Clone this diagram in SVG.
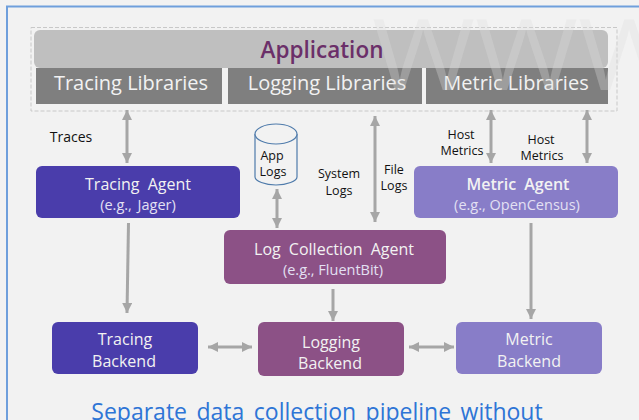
<svg xmlns="http://www.w3.org/2000/svg" width="639" height="420" viewBox="0 0 639 420">
<defs>
<marker id="a" markerUnits="userSpaceOnUse" markerWidth="11" markerHeight="10" refX="10" refY="5" orient="auto-start-reverse"><path d="M0 0L10 5L0 10Z" fill="#a6a6a6"/></marker>
</defs>
<style>
text{font-family:"Open Sans","Noto Sans","Liberation Sans",sans-serif;text-anchor:middle}
.w{fill:#f2f2f2}
.l{font-size:20px;fill:#f2f2f2}
.t{font-size:16px}
.g{word-spacing:4px}
.e{font-size:14.500px;fill:#e3e0f3}
.k{font-size:12.500px;fill:#111}
.c{stroke:#a6a6a6;stroke-width:3;fill:none;marker-end:url(#a)}
.b{marker-start:url(#a)}
.tr{fill:#4a3dab}
.lg{fill:#8c5186}
.mt{fill:#887dc8}
</style>
<rect width="639" height="420" fill="#f2f2f2"/>
<path d="M639 6.500H7V420" fill="none" stroke="#6f9fdc" stroke-width="2"/>
<g id="frame"><rect x="31" y="27.500" width="586" height="83.500" fill="none" stroke="#c8c8c8" stroke-dasharray="4 2"/></g>
<g id="application"><rect x="34" y="30" width="574" height="38" rx="6" fill="#bfbfbf"/>
<text x="322" y="58" font-weight="600" fill="#6b2f69" style="font-size:22.500px">Application</text></g>
<g id="tracing-libraries"><rect x="36" y="68" width="186" height="36" fill="#7f7f7f"/><text class="l" x="131" y="90">Tracing Libraries</text></g>
<g id="logging-libraries"><rect x="228" y="68" width="194" height="36" fill="#7f7f7f"/><text class="l" x="327" y="90">Logging Libraries</text></g>
<g id="metric-libraries"><rect x="426" y="68" width="182" height="36" fill="#7f7f7f"/><text class="l" x="516" y="90">Metric Libraries</text></g>
<text x="372" y="90" style="font-size:98px;fill:#dcdcdc;fill-opacity:.32;text-anchor:start" textLength="309" lengthAdjust="spacingAndGlyphs">WWW</text>
<g id="connectors">
<path class="c b" d="M127 110V163"/>
<path class="c b" d="M277 189V228"/>
<path class="c b" d="M375 116V222"/>
<path class="c b" d="M491 110V163"/>
<path class="c b" d="M587 110V163"/>
<path class="c" d="M128.500 223L127 313"/>
<path class="c" d="M333 289V321"/>
<path class="c" d="M531 223V319"/>
<path class="c b" d="M208 347H252"/>
<path class="c b" d="M409 347H454"/>
</g>
<g id="traces-label"><text class="k" x="71" y="142" style="font-size:14px">Traces</text></g>
<g id="app-logs"><path d="M255 134V177C255 181 265 185 276 185C287 185 297 181 297 177V134" fill="#f2f2f2" stroke="#4f7bab" stroke-width="1.200"/><ellipse cx="276" cy="134" rx="21" ry="10" fill="#f2f2f2" stroke="#4f7bab" stroke-width="1.200"/>
<text class="k" x="272" y="160">App</text><text class="k" x="273" y="176">Logs</text></g>
<g id="system-logs-label"><text class="k" x="339" y="178">System</text><text class="k" x="339" y="195">Logs</text></g>
<g id="file-logs-label"><text class="k" x="394" y="174">File</text><text class="k" x="394" y="190">Logs</text></g>
<g id="host-metrics-1"><text class="k" x="461" y="139">Host</text><text class="k" x="462" y="155">Metrics</text></g>
<g id="host-metrics-2"><text class="k" x="541" y="144">Host</text><text class="k" x="542" y="160">Metrics</text></g>
<g id="tracing-agent"><rect class="tr" x="36" y="166" width="204" height="52" rx="6"/><text class="t w g" x="138" y="190">Tracing Agent</text><text class="e" x="138" y="210" style="word-spacing:2px">(e.g., Jager)</text></g>
<g id="metric-agent"><rect class="mt" x="414" y="166" width="204" height="52" rx="6"/><text class="t w g" x="518" y="190" font-weight="600">Metric Agent</text><text class="e" x="517" y="210">(e.g., OpenCensus)</text></g>
<g id="log-collection-agent"><rect class="lg" x="224" y="230" width="222" height="54" rx="6"/><text class="t w g" x="334" y="255">Log Collection Agent</text><text class="e" x="333" y="275">(e.g., FluentBit)</text></g>
<g id="tracing-backend"><rect class="tr" x="52" y="322" width="146" height="52" rx="6"/><text class="t w" x="125" y="345">Tracing</text><text class="t w" x="124" y="367">Backend</text></g>
<g id="logging-backend"><rect class="lg" x="258" y="322" width="146" height="54" rx="6"/><text class="t w" x="331" y="348">Logging</text><text class="t w" x="330" y="369">Backend</text></g>
<g id="metric-backend"><rect class="mt" x="456" y="322" width="146" height="52" rx="6"/><text class="t w" x="529" y="345">Metric</text><text class="t w" x="529" y="367">Backend</text></g>
<text x="317" y="420" style="font-size:23px;fill:#2e75d6;word-spacing:3.500px">Separate data collection pipeline without</text>
</svg>
